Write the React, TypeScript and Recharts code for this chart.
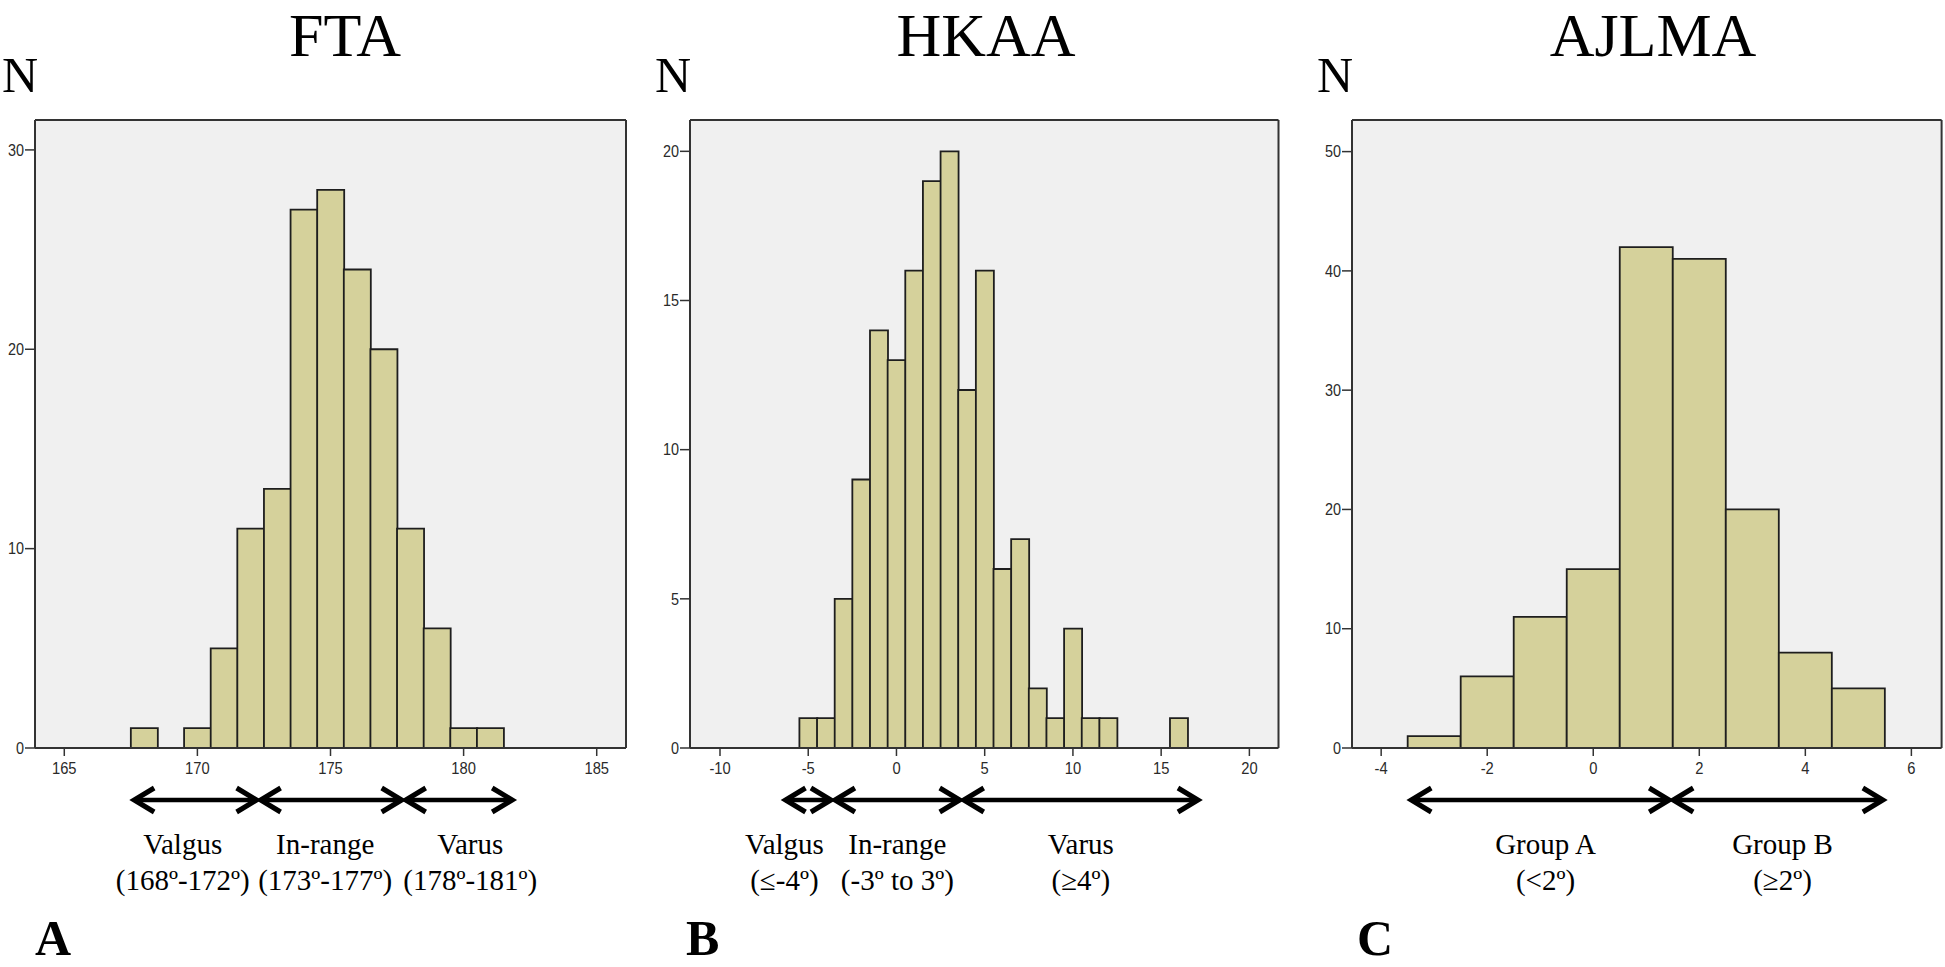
import React from 'react';
import { BarChart, Bar, XAxis, YAxis, CartesianGrid, ReferenceLine } from 'recharts';

// FTA: counts per 1-degree bin
const ftaAngles = [168, 170, 171, 172, 173, 174, 175, 176, 177, 178, 179, 180, 181];
const ftaCounts = [1, 1, 5, 11, 13, 27, 28, 24, 20, 11, 6, 1, 1];
const ftaXTicks = [165, 170, 175, 180, 185];
const ftaYTicks = [0, 10, 20, 30];

// HKAA
const hkaaAngles = [-5, -4, -3, -2, -1, 0, 1, 2, 3, 4, 5, 6, 7, 8, 9, 10, 11, 12, 16];
const hkaaCounts = [1, 1, 5, 9, 14, 13, 16, 19, 20, 12, 16, 6, 7, 2, 1, 4, 1, 1, 1];
const hkaaXTicks = [-10, -5, 0, 5, 10, 15, 20];
const hkaaYTicks = [0, 5, 10, 15, 20];

// AJLMA
const ajlmaAngles = [-3, -2, -1, 0, 1, 2, 3, 4, 5];
const ajlmaCounts = [1, 6, 11, 15, 42, 41, 20, 8, 5];
const ajlmaXTicks = [-4, -2, 0, 2, 4, 6];
const ajlmaYTicks = [0, 10, 20, 30, 40, 50];

// ranges marked with arrows under the x axis (from/to in degrees, "at" = label centre)
const ftaGroups = [
  { from: 167.55, to: 172.3, at: 169.45, name: 'Valgus', range: '(168º-172º)' },
  { from: 172.3, to: 177.75, at: 174.8, name: 'In-range', range: '(173º-177º)' },
  { from: 177.75, to: 181.9, at: 180.25, name: 'Varus', range: '(178º-181º)' },
];
const hkaaGroups = [
  { from: -6.4, to: -3.6, at: -6.35, name: 'Valgus', range: '(≤-4º)' },
  { from: -3.6, to: 3.7, at: 0.05, name: 'In-range', range: '(-3º to 3º)' },
  { from: 3.7, to: 17.2, at: 10.45, name: 'Varus', range: '(≥4º)' },
];
const ajlmaGroups = [
  { from: -3.47, to: 1.47, at: -0.9, name: 'Group A', range: '(<2º)' },
  { from: 1.47, to: 5.5, at: 3.57, name: 'Group B', range: '(≥2º)' },
];

const H = 967;
const PLOT_TOP = 120;
const PLOT_BOTTOM = 748;
const X_AXIS_H = 30;
const FRAME = '#333';
const BAR_FILL = '#d5d19b';
const SERIF = '"Liberation Serif", "Times New Roman", serif';
const SANS = '"Liberation Sans", Arial, sans-serif';

const YTick = (props: any) => {
  const { x, y, payload } = props;
  return (
    <text transform={`translate(${x},${y}) scale(0.9,1)`} dy="0.36em" textAnchor="end"
      fontSize={16} fontFamily={SANS} fill="#2a2a2a">{payload.value}</text>
  );
};

const XTick = (props: any) => {
  const { x, y, payload } = props;
  return (
    <text transform={`translate(${x},${y}) scale(0.92,1)`} dy="0.72em" textAnchor="middle"
      fontSize={16} fontFamily={SANS} fill="#2a2a2a">{payload.value}</text>
  );
};

type Group = { from: number; to: number; at: number; name: string; range: string };

const RangeArrow = (props: any) => {
  const { x1, x2, y1, group } = props;
  const g: Group = group;
  const y = y1 + 52;
  const lx = x1 + ((g.at - g.from) / (g.to - g.from)) * (x2 - x1);
  const hl = 22, hh = 12;
  return (
    <g>
      <line x1={x1 + 2} y1={y} x2={x2 - 2} y2={y} stroke="#000" strokeWidth={4.5} />
      <polyline points={`${x1 + hl},${y - hh} ${x1 + 2},${y} ${x1 + hl},${y + hh}`} fill="none" stroke="#000" strokeWidth={5} />
      <polyline points={`${x2 - hl},${y - hh} ${x2 - 2},${y} ${x2 - hl},${y + hh}`} fill="none" stroke="#000" strokeWidth={5} />
      <text x={lx} y={y + 54} textAnchor="middle" fontSize={29} fontFamily={SERIF} fill="#000">{g.name}</text>
      <text x={lx} y={y + 90} textAnchor="middle" fontSize={29} fontFamily={SERIF} fill="#000">{g.range}</text>
    </g>
  );
};

type PanelProps = {
  left: number;
  width: number;
  plotLeft: number;
  plotRight: number;
  angles: number[];
  counts: number[];
  xDomain: [number, number];
  yDomain: [number, number];
  xTicks: number[];
  yTicks: number[];
  groups: Group[];
};

const Histogram = ({ left, width, plotLeft, plotRight, angles, counts, xDomain, yDomain, xTicks, yTicks, groups }: PanelProps) => {
  const data = angles.map((a, i) => ({ angle: a, n: counts[i] }));
  return (
    <div style={{ position: 'absolute', left, top: 0 }}>
      <BarChart
        width={width}
        height={H}
        data={data}
        margin={{ top: PLOT_TOP - 1, left: 0, right: width - plotRight - 1, bottom: H - PLOT_BOTTOM - X_AXIS_H }}
        barCategoryGap={0}
        barGap={0}
      >
        <CartesianGrid fill="#f0f0f0" horizontal={false} vertical={false} />
        <XAxis
          dataKey="angle"
          type="number"
          domain={xDomain}
          ticks={xTicks}
          allowDataOverflow
          interval={0}
          height={X_AXIS_H}
          axisLine={{ stroke: FRAME, strokeWidth: 2 }}
          tickLine={{ stroke: FRAME, strokeWidth: 1.5 }}
          tickSize={8}
          tickMargin={6}
          tick={XTick}
        />
        <YAxis
          type="number"
          domain={yDomain}
          ticks={yTicks}
          allowDataOverflow
          interval={0}
          width={plotLeft}
          axisLine={{ stroke: FRAME, strokeWidth: 2 }}
          tickLine={{ stroke: FRAME, strokeWidth: 1.5 }}
          tickSize={10}
          tickMargin={1}
          tick={YTick}
        />
        <XAxis xAxisId="top" orientation="top" height={1} tick={false} tickLine={false}
          axisLine={{ stroke: FRAME, strokeWidth: 2 }} />
        <YAxis yAxisId="right" orientation="right" width={1} tick={false} tickLine={false}
          axisLine={{ stroke: FRAME, strokeWidth: 2 }} />
        <Bar dataKey="n" fill={BAR_FILL} stroke="#1e1e1e" strokeWidth={1.8} isAnimationActive={false} />
        {groups.map((g) => (
          <ReferenceLine
            key={g.name}
            segment={[{ x: g.from, y: 0 }, { x: g.to, y: 0 }]}
            stroke="none"
            shape={(p: any) => <RangeArrow {...p} group={g} />}
          />
        ))}
      </BarChart>
    </div>
  );
};

const App = () => {
  return (
    <div style={{ position: 'relative', width: 1945, height: H, background: '#fff', overflow: 'hidden' }}>
      <style>{'body{margin:0}'}</style>
      <Histogram left={0} width={640} plotLeft={35} plotRight={626}
        angles={ftaAngles} counts={ftaCounts} xDomain={[163.9, 186.1]} yDomain={[0, 31.5]}
        xTicks={ftaXTicks} yTicks={ftaYTicks} groups={ftaGroups} />
      <Histogram left={640} width={650} plotLeft={50} plotRight={638.5}
        angles={hkaaAngles} counts={hkaaCounts} xDomain={[-11.7, 21.65]} yDomain={[0, 21.05]}
        xTicks={hkaaXTicks} yTicks={hkaaYTicks} groups={hkaaGroups} />
      <Histogram left={1290} width={655} plotLeft={62} plotRight={651.6}
        angles={ajlmaAngles} counts={ajlmaCounts} xDomain={[-4.55, 6.57]} yDomain={[0, 52.65]}
        xTicks={ajlmaXTicks} yTicks={ajlmaYTicks} groups={ajlmaGroups} />
      <svg width={1945} height={H} style={{ position: 'absolute', left: 0, top: 0, pointerEvents: 'none' }}>
        <g fontFamily={SERIF} fill="#000">
          <text x={345} y={56} textAnchor="middle" fontSize={62}>FTA</text>
          <text x={986} y={56} textAnchor="middle" fontSize={62}>HKAA</text>
          <text x={1653} y={56} textAnchor="middle" fontSize={62}>AJLMA</text>
          <text x={2} y={92} fontSize={50}>N</text>
          <text x={655} y={92} fontSize={50}>N</text>
          <text x={1317} y={92} fontSize={50}>N</text>
          <text x={35} y={955} fontSize={50} fontWeight="bold">A</text>
          <text x={686} y={955} fontSize={50} fontWeight="bold">B</text>
          <text x={1357} y={955} fontSize={50} fontWeight="bold">C</text>
        </g>
      </svg>
    </div>
  );
};

export default App;
